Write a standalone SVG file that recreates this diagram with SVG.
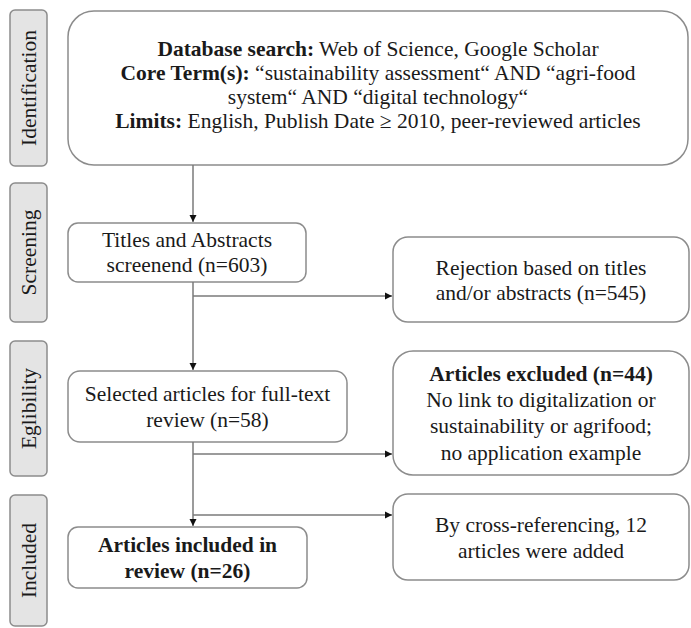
<svg xmlns="http://www.w3.org/2000/svg" width="691" height="628" viewBox="0 0 691 628">
<style>
.side{fill:#e4e4e4;stroke:#8c8c8c;stroke-width:1.5}
.box{fill:#fff;stroke:#8c8c8c;stroke-width:1.5}
.t{font-family:"Liberation Serif","Times New Roman",serif;font-size:21.5px;fill:#1a1a1a;text-anchor:middle}
.b{font-weight:bold}
.conn{stroke:#7a7a7a;stroke-width:1.5;fill:none}
</style>
<defs>
<marker id="ah" markerWidth="8" markerHeight="8" refX="7" refY="4" orient="auto" markerUnits="userSpaceOnUse">
<path d="M0,0.5 L7,4 L0,7.5 Z" fill="#111"/>
</marker>
</defs>
<rect width="691" height="628" fill="#fff"/>

<g id="lbl-identification">
<rect class="side" x="10" y="10" width="37" height="156" rx="5"/>
<text class="t" transform="translate(35.5,88) rotate(-90)">Identification</text>
</g>
<g id="lbl-screening">
<rect class="side" x="10" y="183" width="37" height="139" rx="5"/>
<text class="t" transform="translate(35.5,252.5) rotate(-90)">Screening</text>
</g>
<g id="lbl-eligibility">
<rect class="side" x="10" y="341" width="37" height="135" rx="5"/>
<text class="t" transform="translate(35.5,408.5) rotate(-90)">Eglibility</text>
</g>
<g id="lbl-included">
<rect class="side" x="10" y="495" width="37" height="131" rx="5"/>
<text class="t" transform="translate(35.5,560.5) rotate(-90)">Included</text>
</g>

<g id="search">
<rect class="box" x="68" y="11" width="620" height="154" rx="26"/>
<text class="t" x="378" y="56"><tspan class="b">Database search:</tspan> Web of Science, Google Scholar</text>
<text class="t" x="378" y="80"><tspan class="b">Core Term(s):</tspan> “sustainability assessment“ AND “agri-food</text>
<text class="t" x="378" y="104">system“ AND “digital technology“</text>
<text class="t" x="378" y="128"><tspan class="b">Limits:</tspan> English, Publish Date ≥ 2010, peer-reviewed articles</text>
</g>

<g id="screened">
<rect class="box" x="68" y="223" width="238" height="59" rx="10"/>
<text class="t" x="187" y="247">Titles and Abstracts</text>
<text class="t" x="187" y="272">screenend (n=603)</text>
</g>

<g id="rejected">
<rect class="box" x="393" y="237" width="296" height="85" rx="15"/>
<text class="t" x="541" y="275">Rejection based on titles</text>
<text class="t" x="541" y="300">and/or abstracts (n=545)</text>
</g>

<g id="fulltext">
<rect class="box" x="68" y="371" width="279" height="71" rx="12"/>
<text class="t" x="207.5" y="401">Selected articles for full-text</text>
<text class="t" x="207.5" y="427">review (n=58)</text>
</g>

<g id="excluded">
<rect class="box" x="393" y="351" width="296" height="124" rx="20"/>
<text class="t b" x="541" y="381">Articles excluded (n=44)</text>
<text class="t" x="541" y="407">No link to digitalization or</text>
<text class="t" x="541" y="433">sustainability or agrifood;</text>
<text class="t" x="541" y="460">no application example</text>
</g>

<g id="crossref">
<rect class="box" x="393" y="494" width="296" height="86" rx="15"/>
<text class="t" x="541" y="532">By cross-referencing, 12</text>
<text class="t" x="541" y="558">articles were added</text>
</g>

<g id="included">
<rect class="box" x="68" y="527" width="239" height="61" rx="10"/>
<text class="t b" x="187.5" y="552">Articles included in</text>
<text class="t b" x="187.5" y="578">review (n=26)</text>
</g>

<g id="connectors">
<line class="conn" x1="193" y1="165" x2="193" y2="222" marker-end="url(#ah)"/>
<line class="conn" x1="193" y1="282" x2="193" y2="370" marker-end="url(#ah)"/>
<line class="conn" x1="193" y1="296" x2="392" y2="296" marker-end="url(#ah)"/>
<line class="conn" x1="193" y1="442" x2="193" y2="526" marker-end="url(#ah)"/>
<line class="conn" x1="193" y1="454" x2="392" y2="454" marker-end="url(#ah)"/>
<line class="conn" x1="193" y1="515" x2="392" y2="515" marker-end="url(#ah)"/>
</g>
</svg>
